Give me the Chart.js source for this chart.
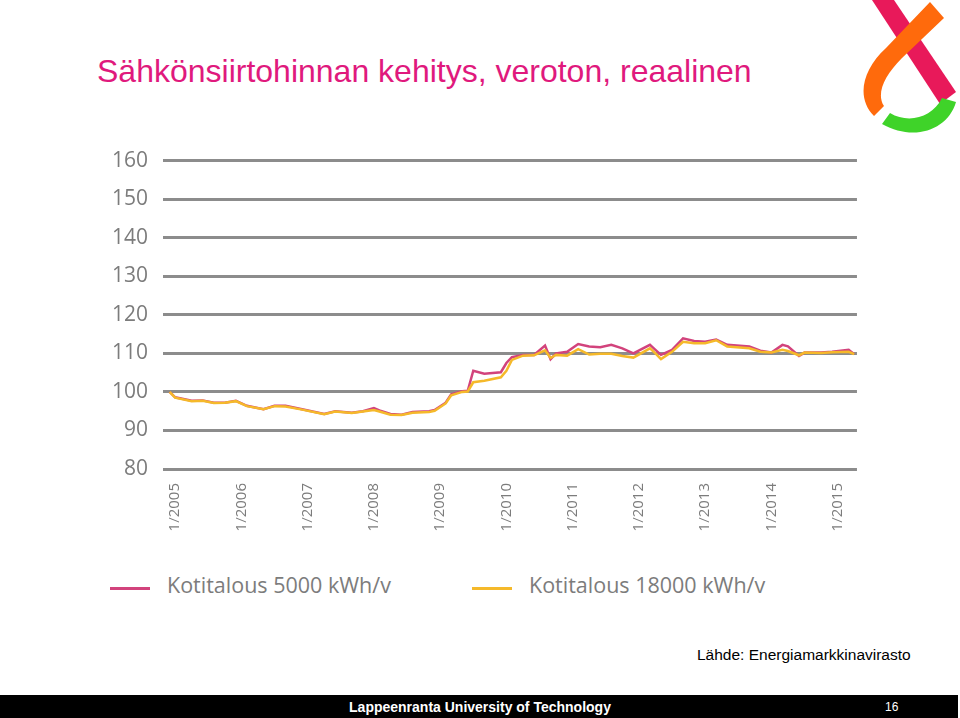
<!DOCTYPE html>
<html>
<head>
<meta charset="utf-8">
<script src="https://cdn.jsdelivr.net/npm/chart.js@4/dist/chart.umd.min.js"></script>
<style>
  html, body { margin: 0; padding: 0; background: #fff; }
  body { width: 960px; height: 718px; position: relative; overflow: hidden; font-family: "Liberation Sans", Arial, sans-serif; }
  #title { position: absolute; left: 97px; top: 53px; font-size: 32px; color: #e0197d; white-space: nowrap; }
  #chartBox { position: absolute; left: 100px; top: 133px; width: 770px; height: 426px; }
  #legend { position: absolute; left: 0; top: 570px; width: 960px; height: 28px; font-family: "Open Sans", sans-serif; font-size: 21.5px; color: #7c7c7c; }
  .lg { position: absolute; top: 0; white-space: nowrap; }
  .lg i { display: inline-block; width: 40px; height: 3px; vertical-align: middle; margin-right: 17px; position: relative; top: 1px; }
  #source { position: absolute; left: 697px; top: 646px; font-size: 15.5px; color: #000; white-space: nowrap; }
  #footer { position: absolute; left: 0; top: 695px; width: 958px; height: 23px; background: #000; color: #fff; }
  #footer .uni { position: absolute; left: 0; width: 960px; text-align: center; top: 4px; font-weight: bold; font-size: 14px; }
  #footer .page { position: absolute; left: 885px; top: 5px; font-size: 12px; }
  #logo { position: absolute; left: 858px; top: 0; }
</style>
</head>
<body>
<div id="title">Sähkönsiirtohinnan kehitys, veroton, reaalinen</div>

<svg id="logo" width="102" height="140" viewBox="0 0 102 140">
  <path d="M14 0 L36 0 L98 92 L82 104 Z" fill="#e8195a"/>
  <path d="M72 2 L86 18 L44 58 C26 76 18 94 26 106 L16 116 C-2 98 4 70 28 48 Z" fill="#ff6a0c"/>
  <path d="M32 113 C50 124 74 118 84 98 L98 102 C90 130 56 142 24 124 Z" fill="#3fd329"/>
</svg>

<div id="chartBox"><canvas id="trendChart"></canvas></div>

<div id="legend">
  <span class="lg" style="left:110px"><i style="background:#d2437c"></i>Kotitalous 5000 kWh/v</span>
  <span class="lg" style="left:472px"><i style="background:#f5b92a"></i>Kotitalous 18000 kWh/v</span>
</div>

<div id="source">Lähde: Energiamarkkinavirasto</div>
<div id="footer"><span class="uni">Lappeenranta University of Technology</span><span class="page">16</span></div>

<script>
// months counted from 1/2005 (= 0)
const months = [-1, 0, 3, 5, 7, 9, 11, 13, 16, 18, 20, 23, 27, 29, 32, 34, 36, 37, 39, 41, 43, 46, 47, 49, 50, 52, 53, 54, 56, 59, 60, 61, 63, 65, 67, 68, 69, 71, 73, 75, 77, 79, 81, 83, 86, 87, 88, 90, 92, 94, 96, 98, 100, 104, 106, 108, 110, 111, 113, 114, 117, 119, 122, 123];
const kotitalous5000 = [100, 98.6, 97.7, 97.8, 97.2, 97.2, 97.7, 96.4, 95.5, 96.4, 96.4, 95.5, 94.3, 95.0, 94.6, 95.0, 95.8, 95.2, 94.3, 94.1, 94.8, 95.0, 95.3, 97.2, 99.4, 100.2, 100.3, 105.5, 104.7, 105.1, 107.5, 109.0, 109.6, 109.6, 112.0, 108.5, 110.0, 110.4, 112.4, 111.8, 111.6, 112.2, 111.3, 110.0, 112.2, 110.9, 109.6, 110.9, 113.9, 113.2, 113.0, 113.6, 112.2, 111.8, 110.7, 110.2, 112.2, 111.8, 109.3, 110.2, 110.2, 110.4, 110.9, 109.8];
const kotitalous18000 = [100, 98.5, 97.6, 97.7, 97.1, 97.2, 97.6, 96.3, 95.5, 96.3, 96.2, 95.4, 94.2, 94.9, 94.5, 94.9, 95.3, 94.9, 94.1, 94.0, 94.6, 94.8, 95.1, 97.0, 99.1, 100.0, 100.1, 102.5, 102.9, 103.8, 105.5, 108.3, 109.4, 109.5, 110.8, 108.8, 109.6, 109.4, 111.1, 109.7, 109.9, 109.9, 109.3, 108.9, 111.3, 110.0, 108.5, 110.4, 113.0, 112.6, 112.6, 113.4, 111.8, 111.3, 110.4, 110.2, 110.9, 110.6, 109.5, 110.2, 110.1, 110.3, 110.4, 109.8];
const yearLabels = ['1/2005', '1/2006', '1/2007', '1/2008', '1/2009', '1/2010', '1/2011', '1/2012', '1/2013', '1/2014', '1/2015'];
const yTicks = [80, 90, 100, 110, 120, 130, 140, 150, 160];

const toPoints = vals => vals.map((v, i) => ({ x: months[i], y: v }));

new Chart(document.getElementById('trendChart').getContext('2d'), {
  type: 'line',
  data: {
    datasets: [
      {
        label: 'Kotitalous 5000 kWh/v',
        data: toPoints(kotitalous5000),
        borderColor: '#d2437c',
        borderWidth: 2.5,
        pointRadius: 0,
        tension: 0,
        order: 2
      },
      {
        label: 'Kotitalous 18000 kWh/v',
        data: toPoints(kotitalous18000),
        borderColor: '#f5b92a',
        borderWidth: 2.5,
        pointRadius: 0,
        tension: 0,
        order: 1
      }
    ]
  },
  options: {
    responsive: true,
    maintainAspectRatio: false,
    animation: false,
    layout: { padding: { top: 13, right: 13, left: 0, bottom: 0 } },
    plugins: { legend: { display: false }, tooltip: { enabled: false } },
    scales: {
      x: {
        type: 'linear',
        min: -2.2,
        max: 123.5,
        afterBuildTicks: s => { s.ticks = yearLabels.map((_, i) => ({ value: i * 12 })); },
        afterFit: s => { s.height = 90; },
        grid: { display: false, drawTicks: false },
        border: { display: false },
        ticks: {
          autoSkip: false,
          minRotation: 90,
          maxRotation: 90,
          padding: 14,
          color: '#7c7c7c',
          font: { family: 'Open Sans', size: 15 },
          callback: v => yearLabels[v / 12]
        }
      },
      y: {
        min: 80,
        max: 160,
        afterBuildTicks: s => { s.ticks = yTicks.map(v => ({ value: v })); },
        afterFit: s => { s.width = 63; },
        grid: { color: '#8c8c8c', lineWidth: 3, drawTicks: false },
        border: { display: false },
        ticks: {
          padding: 15,
          color: '#7c7c7c',
          font: { family: 'Open Sans', size: 21 }
        }
      }
    }
  }
});
</script>
</body>
</html>
